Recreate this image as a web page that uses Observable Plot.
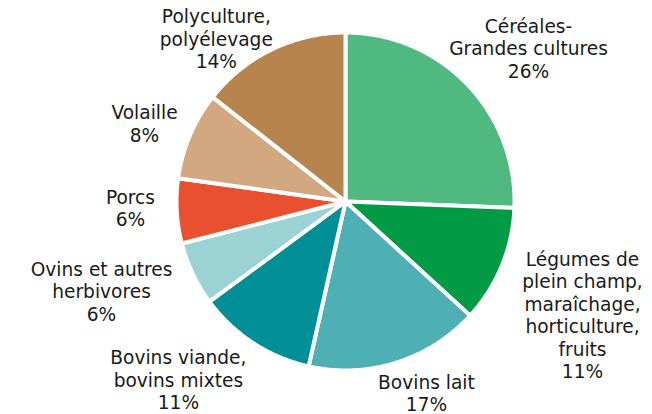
<!DOCTYPE html>
<html><head><meta charset="utf-8">
<script src="https://cdn.jsdelivr.net/npm/d3@7"></script>
<script src="https://cdn.jsdelivr.net/npm/@observablehq/plot@0.6"></script>
<style>body{margin:0;background:#fff}</style>
</head><body><div id="chart"></div>
<script>
// ---- data ----
const categories = [
  "Céréales-Grandes cultures",
  "Légumes de plein champ, maraîchage, horticulture, fruits",
  "Bovins lait",
  "Bovins viande, bovins mixtes",
  "Ovins et autres herbivores",
  "Porcs",
  "Volaille",
  "Polyculture, polyélevage"
];
const shares = [25.6, 11.2, 16.7, 11.4, 6.1, 6.2, 8.4, 14.4];
const labelLines = [
  ["Céréales-", "Grandes cultures"],
  ["Légumes de", "plein champ,", "maraîchage,", "horticulture,", "fruits"],
  ["Bovins lait"],
  ["Bovins viande,", "bovins mixtes"],
  ["Ovins et autres", "herbivores"],
  ["Porcs"],
  ["Volaille"],
  ["Polyculture,", "polyélevage"]
];
const colors = ["#50b97f", "#009b44", "#4eafb5", "#008e97", "#9bd2d4", "#e8502f", "#d1a880", "#b8844d"];

// ---- label layout (relative to each slice's mid-angle) ----
const labelNudgeDeg = [3.9, 3.2, -5.5, 10.1, 5.2, 1.6, -1.8, -12.5];
const labelRadius = [1.414, 1.554, 1.228, 1.444, 1.538, 1.273, 1.276, 1.230];

const arcs = d3.pie().sort(null).value(d => d)(shares);
const slicePts = [];
arcs.forEach((a, i) => {
  const cat = categories[i];
  slicePts.push({cat, x: 0, y: 0});
  const n = Math.max(2, Math.ceil((a.endAngle - a.startAngle) / 0.01));
  for (let k = 0; k <= n; k++) {
    const t = a.startAngle + (a.endAngle - a.startAngle) * k / n;
    slicePts.push({cat, x: Math.sin(t), y: Math.cos(t)});
  }
});
const labels = arcs.map((a, i) => {
  const mid = (a.startAngle + a.endAngle) / 2 + labelNudgeDeg[i] * Math.PI / 180;
  return {
    x: labelRadius[i] * Math.sin(mid),
    y: labelRadius[i] * Math.cos(mid),
    text: [...labelLines[i], Math.round(shares[i]) + "%"].join("\n")
  };
});

const chart = Plot.plot({
  width: 652, height: 414,
  marginLeft: 176, marginRight: 138, marginTop: 32, marginBottom: 44,
  x: {domain: [-1, 1], axis: null},
  y: {domain: [-1, 1], axis: null},
  color: {domain: categories, range: colors},
  style: {fontFamily: "'DejaVu Sans', Verdana, sans-serif", background: "white", overflow: "visible"},
  marks: [
    Plot.line(slicePts, {x: "x", y: "y", z: "cat", fill: "cat", stroke: "white", strokeWidth: 4, strokeLinejoin: "round", curve: "linear-closed"}),
    Plot.text(labels, {x: "x", y: "y", text: "text", fontSize: 18.6, lineHeight: 1.21, fill: "#1a1a1a", textAnchor: "middle", lineAnchor: "middle"})
  ]
});
document.getElementById("chart").appendChild(chart);
</script>
</body></html>
